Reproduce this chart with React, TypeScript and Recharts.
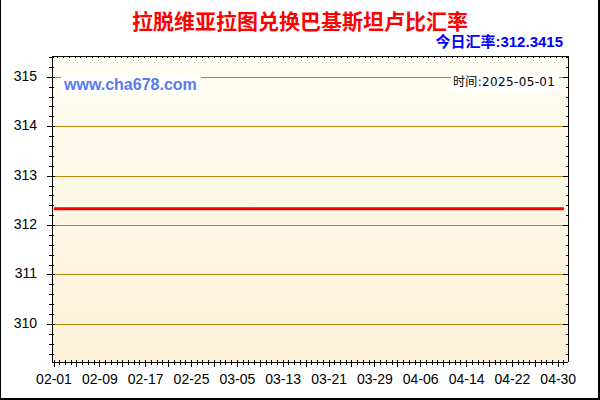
import React from 'react';
import { LineChart, Line, XAxis, YAxis, CartesianGrid, ReferenceLine } from 'recharts';

const dates = [
  '02-01', '02-02', '02-03', '02-04', '02-05', '02-06', '02-07', '02-08', '02-09', '02-10',
  '02-11', '02-12', '02-13', '02-14', '02-15', '02-16', '02-17', '02-18', '02-19', '02-20',
  '02-21', '02-22', '02-23', '02-24', '02-25', '02-26', '02-27', '02-28',
  '03-01', '03-02', '03-03', '03-04', '03-05', '03-06', '03-07', '03-08', '03-09', '03-10',
  '03-11', '03-12', '03-13', '03-14', '03-15', '03-16', '03-17', '03-18', '03-19', '03-20',
  '03-21', '03-22', '03-23', '03-24', '03-25', '03-26', '03-27', '03-28', '03-29', '03-30', '03-31',
  '04-01', '04-02', '04-03', '04-04', '04-05', '04-06', '04-07', '04-08', '04-09', '04-10',
  '04-11', '04-12', '04-13', '04-14', '04-15', '04-16', '04-17', '04-18', '04-19', '04-20',
  '04-21', '04-22', '04-23', '04-24', '04-25', '04-26', '04-27', '04-28', '04-29', '04-30',
  '05-01',
];

const rates = [
  312.3415, 312.3415, 312.3415, 312.3415, 312.3415, 312.3415, 312.3415, 312.3415, 312.3415, 312.3415,
  312.3415, 312.3415, 312.3415, 312.3415, 312.3415, 312.3415, 312.3415, 312.3415, 312.3415, 312.3415,
  312.3415, 312.3415, 312.3415, 312.3415, 312.3415, 312.3415, 312.3415, 312.3415,
  312.3415, 312.3415, 312.3415, 312.3415, 312.3415, 312.3415, 312.3415, 312.3415, 312.3415, 312.3415,
  312.3415, 312.3415, 312.3415, 312.3415, 312.3415, 312.3415, 312.3415, 312.3415, 312.3415, 312.3415,
  312.3415, 312.3415, 312.3415, 312.3415, 312.3415, 312.3415, 312.3415, 312.3415, 312.3415, 312.3415, 312.3415,
  312.3415, 312.3415, 312.3415, 312.3415, 312.3415, 312.3415, 312.3415, 312.3415, 312.3415, 312.3415,
  312.3415, 312.3415, 312.3415, 312.3415, 312.3415, 312.3415, 312.3415, 312.3415, 312.3415, 312.3415,
  312.3415, 312.3415, 312.3415, 312.3415, 312.3415, 312.3415, 312.3415, 312.3415, 312.3415, 312.3415,
  312.3415,
];

const xLabelDates = ['02-01', '02-09', '02-17', '02-25', '03-05', '03-13', '03-21', '03-29', '04-06', '04-14', '04-22', '04-30'];
const yMajorTicks = [310, 311, 312, 313, 314, 315];
const yAllTicks = [
  309.4, 309.6, 309.8, 310, 310.2, 310.4, 310.6, 310.8, 311, 311.2, 311.4, 311.6, 311.8,
  312, 312.2, 312.4, 312.6, 312.8, 313, 313.2, 313.4, 313.6, 313.8, 314, 314.2, 314.4, 314.6, 314.8,
  315, 315.2, 315.4,
];
const yDomain = [309.24, 315.43];
const xDomain = [-0.35, 89.7];

const title = '拉脱维亚拉图兑换巴基斯坦卢比汇率';
const todayRateLabel = '今日汇率:312.3415';
const watermark = 'www.cha678.com';
const timeLabel = '时间:2025-05-01';

const data = dates.map((d, i) => ({ i, date: d, rate: rates[i] }));
const xTicks = dates.map((_, i) => i);

const FONT = '"Liberation Sans", Arial, sans-serif';
const isMajorY = (v: number) => yMajorTicks.includes(v);

const XTickBottom = (props: any) => {
  const { x, y, payload } = props;
  const i = payload.value as number;
  const major = i % 4 === 0;
  const label = dates[i];
  const show = xLabelDates.includes(label);
  return (
    <g>
      <line x1={x} x2={x} y1={y - 2} y2={y + (major ? 5 : 3)} stroke="#000" shapeRendering="crispEdges" />
      {show && (
        <text x={x} y={y + 22} textAnchor="middle" fontSize={14} fontFamily={FONT} fill="#000">
          {label}
        </text>
      )}
    </g>
  );
};

const XTickTop = (props: any) => {
  const { x, y } = props;
  return <line x1={x} x2={x} y1={y} y2={y + 2} stroke="#000" shapeRendering="crispEdges" />;
};

const YTickLeft = (props: any) => {
  const { x, y, payload } = props;
  const v = payload.value as number;
  const major = isMajorY(v);
  return (
    <g>
      <line x1={major ? x - 5 : x - 3} x2={major ? x + 3 : x + 2} y1={y} y2={y} stroke="#000" shapeRendering="crispEdges" />
      {major && (
        <text x={x - 15} y={y + 3.5} textAnchor="end" fontSize={14} fontFamily={FONT} fill="#000">
          {v}
        </text>
      )}
    </g>
  );
};

const YTickRight = (props: any) => {
  const { x, y, payload } = props;
  const major = isMajorY(payload.value as number);
  return <line x1={major ? x - 5 : x - 2.5} x2={x} y1={y} y2={y} stroke="#000" shapeRendering="crispEdges" />;
};

export default function App() {
  return (
    <div style={{ position: 'fixed', left: 0, top: 0, width: 600, height: 400, background: '#fff', overflow: 'hidden' }}>
      <div style={{ position: 'absolute', left: 0, top: 0 }}>
        <LineChart width={600} height={400} data={data} margin={{ top: 0, right: 0, bottom: 0, left: 0 }}>
          <defs>
            <linearGradient id="plotBg" x1="0" y1="0" x2="0" y2="1">
              <stop offset="0%" stopColor="#FFFEF2" />
              <stop offset="100%" stopColor="#FDF1D9" />
            </linearGradient>
          </defs>
          <CartesianGrid horizontal={false} vertical={false} fill="url(#plotBg)" fillOpacity={1} />
          <XAxis
            dataKey="i"
            type="number"
            domain={xDomain}
            allowDataOverflow
            ticks={xTicks}
            interval={0}
            height={38}
            tickSize={0}
            tickMargin={0}
            tickLine={false}
            axisLine={{ stroke: '#000', shapeRendering: 'crispEdges' }}
            tick={(p: any) => <XTickBottom {...p} />}
          />
          <XAxis
            xAxisId="top"
            orientation="top"
            type="number"
            domain={xDomain}
            allowDataOverflow
            ticks={xTicks}
            interval={0}
            height={56}
            tickSize={0}
            tickMargin={0}
            tickLine={false}
            axisLine={{ stroke: '#000', shapeRendering: 'crispEdges' }}
            tick={(p: any) => <XTickTop {...p} />}
          />
          <YAxis
            type="number"
            domain={yDomain}
            allowDataOverflow
            ticks={yAllTicks}
            interval={0}
            width={52}
            tickSize={0}
            tickMargin={0}
            tickLine={false}
            axisLine={{ stroke: '#000', shapeRendering: 'crispEdges' }}
            tick={(p: any) => <YTickLeft {...p} />}
          />
          <YAxis
            yAxisId="right"
            orientation="right"
            type="number"
            domain={yDomain}
            allowDataOverflow
            ticks={yAllTicks}
            interval={0}
            width={32}
            tickSize={0}
            tickMargin={0}
            tickLine={false}
            axisLine={{ stroke: '#000', shapeRendering: 'crispEdges' }}
            tick={(p: any) => <YTickRight {...p} />}
          />
          {yMajorTicks.map((v) => (
            <ReferenceLine key={v} y={v} stroke="#B8860B" strokeWidth={1} shapeRendering="crispEdges" />
          ))}
          <Line
            dataKey="rate"
            type="linear"
            stroke="#FF0000"
            strokeWidth={3}
            dot={false}
            activeDot={false}
            isAnimationActive={false}
          />
        </LineChart>
      </div>
      <div
        style={{
          position: 'absolute', left: 0, top: 9, width: 600, textAlign: 'center', fontSize: 21, lineHeight: '22px',
          fontWeight: 'bold', color: '#FF0000', fontFamily: '"Noto Sans CJK SC", sans-serif', whiteSpace: 'nowrap',
        }}
      >
        {title}
      </div>
      <div
        style={{
          position: 'absolute', right: 37, top: 34, fontSize: 15, lineHeight: '16px', fontWeight: 'bold',
          color: '#0000FF', fontFamily: '"Liberation Sans", "Noto Sans CJK SC", sans-serif', whiteSpace: 'nowrap',
        }}
      >
        {todayRateLabel}
      </div>
      <div
        style={{
          position: 'absolute', left: 61, top: 76, width: 140, height: 18, background: '#fff', paddingLeft: 3,
          boxSizing: 'border-box', fontSize: 16, lineHeight: '18px', fontWeight: 'bold', color: '#5A7AF0',
          fontFamily: FONT, whiteSpace: 'nowrap',
        }}
      >
        {watermark}
      </div>
      <div
        style={{
          position: 'absolute', left: 451, top: 73, width: 108, height: 18, background: '#fff', paddingLeft: 2,
          boxSizing: 'border-box', fontSize: 12, lineHeight: '18px', color: '#000', letterSpacing: '0.35px',
          fontFamily: '"DejaVu Sans", "Noto Sans CJK SC", sans-serif', whiteSpace: 'nowrap',
        }}
      >
        {timeLabel}
      </div>
      <div
        style={{
          position: 'absolute', left: 0, top: 0, width: 600, height: 400, boxSizing: 'border-box',
          borderLeft: '1px solid #000', borderRight: '2px solid #000', borderBottom: '2px solid #000', pointerEvents: 'none',
        }}
      />
    </div>
  );
}
